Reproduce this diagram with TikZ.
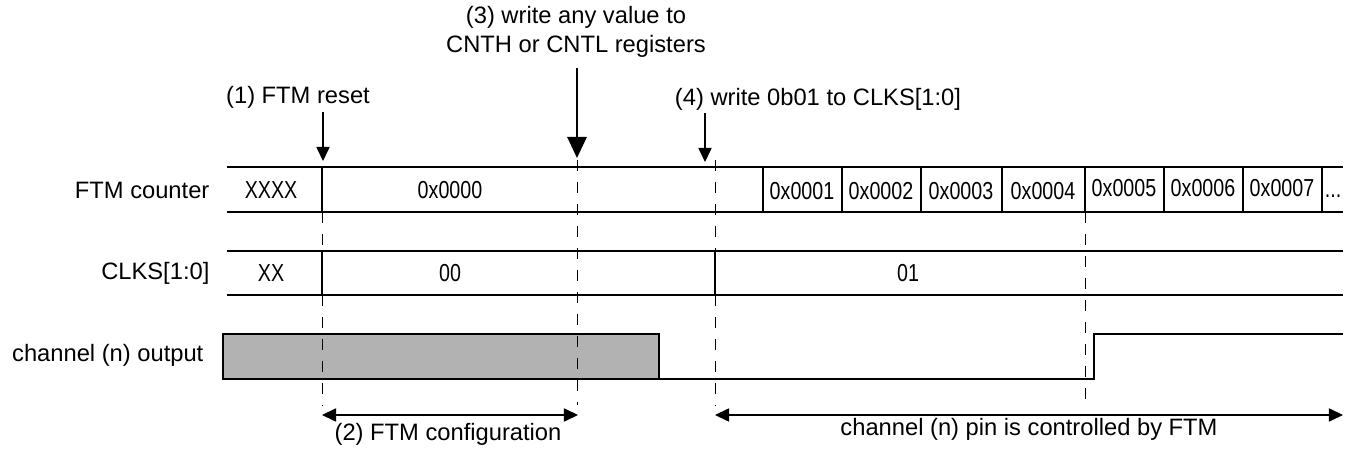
\documentclass[tikz,border=0pt]{standalone}
\usepackage{fontspec}
\setmainfont{Liberation Sans}
\newfontfamily\narrowsans[FakeStretch=0.8]{Liberation Sans}
\usetikzlibrary{arrows.meta}
\definecolor{undefgray}{gray}{0.7}
\begin{document}
\begin{tikzpicture}[x=0.02cm, y=-0.02cm, >={Triangle[length=8pt,width=7.5pt]},
  font=\fontsize{13.5}{16.4}\selectfont, line width=0.7pt,
  marker/.style={dash pattern=on 6.5pt off 6pt, line width=0.5pt},
  sig/.style={anchor=east, inner sep=0pt},
  val/.style={font=\fontsize{14}{16}\narrowsans, inner sep=0pt}]
\useasboundingbox (0,0) rectangle (1356,455);
% signal names
\node[sig] (lcnt) at (210,190) {FTM counter};
\node[sig] (lclks) at (210,273) {CLKS[1:0]};
\node[sig] (lout) at (204,355) {channel (n) output};
% FTM counter
\draw (227,167) -- (1343,167);
\draw (227,212) -- (1343,212);
\draw (322,167) -- (322,212);
\draw (763,167) -- (763,212);
\draw (842,167) -- (842,212);
\draw (921,167) -- (921,212);
\draw (1002,167) -- (1002,212);
\draw (1085,167) -- (1085,212);
\draw (1164,167) -- (1164,212);
\draw (1243,167) -- (1243,212);
\draw (1322,167) -- (1322,212);
\node[val] (cx) at (271,190) {XXXX};
\node[val] (c0) at (450,190) {0x0000};
\node[val] (c1) at (802,191) {0x0001};
\node[val] (c2) at (881,191) {0x0002};
\node[val] (c3) at (961,191) {0x0003};
\node[val] (c4) at (1043,191) {0x0004};
\node[val] (c5) at (1124,188) {0x0005};
\node[val] (c6) at (1203,188) {0x0006};
\node[val] (c7) at (1282,188) {0x0007};
\node[val, anchor=base] (cdots) at (1333,198) {...};
% CLKS[1:0]
\draw (227,251) -- (1343,251);
\draw (227,295) -- (1343,295);
\draw (322,251) -- (322,295);
\draw (715,251) -- (715,295);
\node[val] (kx) at (271,273) {XX};
\node[val] (k0) at (450,273) {00};
\node[val] (k1) at (908,273) {01};
% channel (n) output
\draw[fill=undefgray] (223,334) rectangle (659,379);
\draw (659,379) -- (1094,379) -- (1094,334) -- (1343,334);
% time markers
\draw[marker] (322,212) -- (322,251);
\draw[marker] (322,295) -- (322,405);
\draw[marker] (577,160) -- (577,405);
\draw[marker] (715,160) -- (715,251);
\draw[marker] (715,295) -- (715,405);
\draw[marker] (1085,212) -- (1085,400);
% events
\node (ev1) at (298,97) {(1) FTM reset};
\node[align=center] (ev3) at (576,32) {(3) write any value to\\CNTH or CNTL registers};
\node (ev4) at (818,99) {(4) write 0b01 to CLKS[1:0]};
\coordinate (a1) at (323,112);
\coordinate (t1) at (323,161);
\coordinate (a3) at (577,68);
\coordinate (t3) at (577,158);
\coordinate (a4) at (705,113);
\coordinate (t4) at (705,162);
\draw[->] (a1) -- (t1);
\draw[-{Triangle[length=12pt,width=11pt]}, line width=1.1pt] (a3) -- (t3);
\draw[->] (a4) -- (t4);
% intervals
\coordinate (cfgL) at (322,415);
\coordinate (cfgR) at (578,415);
\coordinate (ctlL) at (715,415);
\coordinate (ctlR) at (1343,415);
\draw[<->] (cfgL) -- (cfgR);
\draw[<->] (ctlL) -- (ctlR);
\node (ev2) at (448,434) {(2) FTM configuration};
\node (ctl) at (1029,429) {channel (n) pin is controlled by FTM};
\end{tikzpicture}
\end{document}
